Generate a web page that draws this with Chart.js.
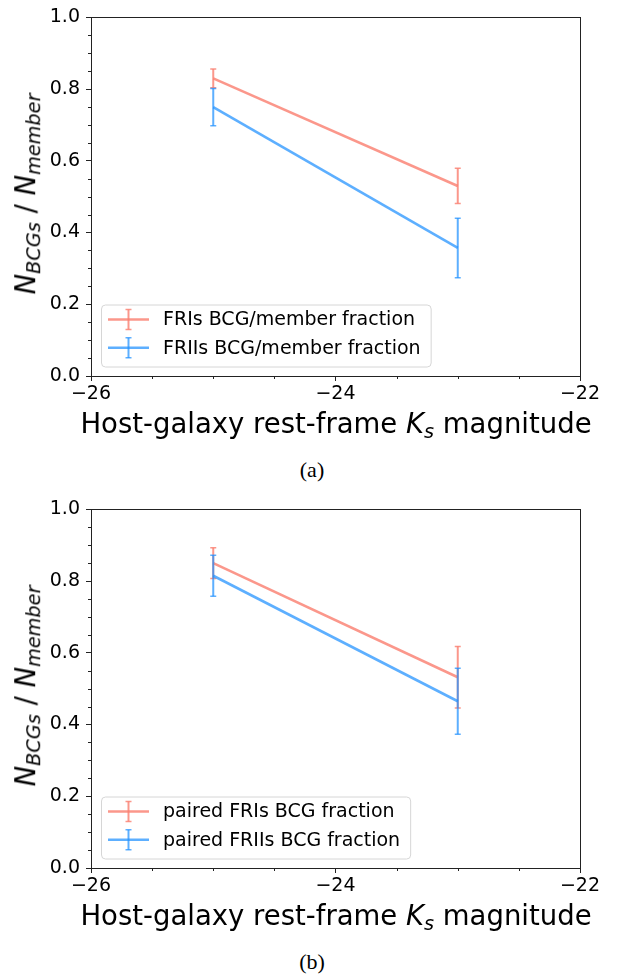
<!DOCTYPE html>
<html>
<head>
<meta charset="utf-8">
<script src="https://cdn.jsdelivr.net/npm/chart.js@4"></script>
<style>
  body { margin: 0; background: #fff; width: 624px; height: 978px; position: relative; overflow: hidden; font-family: 'DejaVu Sans', sans-serif; }
  .panel { position: absolute; left: 0; width: 624px; height: 490px; }
  .panel canvas { position: absolute; left: 0; top: 0; }
  .ytitle { position: absolute; left: 28px; top: 194px; transform: translate(-50%, -50%) rotate(-90deg); font-size: 27.5px; line-height: 1; white-space: nowrap; color: #000; }
  .xtitle { position: absolute; left: 336px; top: 410px; transform: translateX(-50%); font-size: 27.5px; line-height: 1; white-space: nowrap; color: #000; }
  .ytitle sub, .xtitle sub { font-size: 0.7em; vertical-align: -0.28em; }
  .caption { position: absolute; left: 312px; top: 459px; transform: translateX(-50%); font-family: 'Liberation Serif', serif; font-size: 22px; line-height: 1; color: #000; }
</style>
</head>
<body>

<div class="panel" style="top:0">
  <canvas id="panelA" width="624" height="410"></canvas>
  <div class="ytitle"><i>N</i><sub><i>BCGs</i></sub> / <i>N</i><sub><i>member</i></sub></div>
  <div class="xtitle">Host-galaxy rest-frame <i>K</i><sub><i>s</i></sub> magnitude</div>
  <div class="caption">(a)</div>
</div>

<div class="panel" style="top:492px">
  <canvas id="panelB" width="624" height="410"></canvas>
  <div class="ytitle"><i>N</i><sub><i>BCGs</i></sub> / <i>N</i><sub><i>member</i></sub></div>
  <div class="xtitle">Host-galaxy rest-frame <i>K</i><sub><i>s</i></sub> magnitude</div>
  <div class="caption">(b)</div>
</div>

<script>
// Magnitude bins (x) shared by both panels
const magnitudes = [-25, -23];

// Panel (a): BCG / member fraction
const friFraction = [0.83, 0.53];
const friError = [0.026, 0.049];
const friiFraction = [0.75, 0.357];
const friiError = [0.052, 0.083];

// Panel (b): paired sample BCG fraction
const pairedFriFraction = [0.85, 0.532];
const pairedFriError = [0.043, 0.086];
const pairedFriiFraction = [0.815, 0.465];
const pairedFriiError = [0.057, 0.092];

const xTicks = [-26, -24, -22];
const yTicks = [0.0, 0.2, 0.4, 0.6, 0.8, 1.0];

const SALMON = 'rgba(250, 128, 114, 0.82)';
const BLUE = 'rgba(30, 144, 255, 0.72)';
const AXIS = '#222';
const TICK_FONT = { family: 'DejaVu Sans', size: 19 };

function fmtMinus(v) {
  return v < 0 ? '\u2212' + Math.abs(v) : String(v);
}

// minor ticks plus the top and right spines
const frame = {
  id: 'frame',
  afterDraw(chart) {
    const { ctx, chartArea: a, scales: { x, y } } = chart;
    ctx.save();
    ctx.strokeStyle = AXIS;
    ctx.lineWidth = 1;
    ctx.beginPath();
    for (let i = 1; i < 20; i++) {
      if (i % 4 === 0) continue;
      const py = Math.round(y.getPixelForValue(i * 0.05)) + 0.5;
      ctx.moveTo(a.left - 3, py);
      ctx.lineTo(a.left, py);
    }
    for (let i = 1; i < 8; i++) {
      if (i % 4 === 0) continue;
      const px = Math.round(x.getPixelForValue(-26 + i * 0.5)) + 0.5;
      ctx.moveTo(px, a.bottom);
      ctx.lineTo(px, a.bottom + 3);
    }
    ctx.moveTo(Math.round(a.left), Math.round(a.top) + 0.5);
    ctx.lineTo(Math.round(a.right) + 1, Math.round(a.top) + 0.5);
    ctx.moveTo(Math.round(a.right) + 0.5, Math.round(a.top));
    ctx.lineTo(Math.round(a.right) + 0.5, Math.round(a.bottom));
    ctx.stroke();
    ctx.restore();
  }
};

// vertical error bars with caps, drawn right after each dataset's line
const errorBars = {
  id: 'errorBars',
  afterDatasetDraw(chart, args) {
    const ds = chart.data.datasets[args.index];
    const { ctx, scales: { x, y } } = chart;
    ctx.save();
    ctx.strokeStyle = ds.borderColor;
    ds.data.forEach((p, i) => {
      const err = ds.errors[i];
      const px = x.getPixelForValue(p.x);
      const top = y.getPixelForValue(p.y + err);
      const bot = y.getPixelForValue(p.y - err);
      ctx.lineWidth = 2;
      ctx.beginPath();
      ctx.moveTo(px, top);
      ctx.lineTo(px, bot);
      ctx.stroke();
      ctx.lineWidth = 1.5;
      ctx.beginPath();
      ctx.moveTo(px - 3, top);
      ctx.lineTo(px + 3, top);
      ctx.moveTo(px - 3, bot);
      ctx.lineTo(px + 3, bot);
      ctx.stroke();
    });
    ctx.restore();
  }
};

// legend box in the lower left corner of the plot area
const cornerLegend = {
  id: 'cornerLegend',
  afterDraw(chart) {
    const { ctx, chartArea: a } = chart;
    const items = chart.data.datasets;
    ctx.save();
    ctx.font = '19px "DejaVu Sans"';
    const textW = Math.max(...items.map(d => ctx.measureText(d.label).width));
    const left = a.left + 10, bottom = a.bottom - 9.5;
    const w = 62 + textW + 10, h = 62;
    const top = bottom - h;
    ctx.beginPath();
    ctx.roundRect(left + 0.5, top + 0.5, w, h, 4);
    ctx.fillStyle = 'rgba(255,255,255,0.8)';
    ctx.fill();
    ctx.strokeStyle = '#d6d6d6';
    ctx.lineWidth = 1;
    ctx.stroke();
    items.forEach((d, i) => {
      const cy = top + 15 + i * 28.3;
      ctx.strokeStyle = d.borderColor;
      ctx.lineWidth = 2.6;
      ctx.beginPath();
      ctx.moveTo(left + 7, cy);
      ctx.lineTo(left + 48, cy);
      ctx.stroke();
      ctx.lineWidth = 2;
      ctx.beginPath();
      ctx.moveTo(left + 27.5, cy - 10);
      ctx.lineTo(left + 27.5, cy + 10);
      ctx.stroke();
      ctx.lineWidth = 1.5;
      ctx.beginPath();
      ctx.moveTo(left + 24.5, cy - 10);
      ctx.lineTo(left + 30.5, cy - 10);
      ctx.moveTo(left + 24.5, cy + 10);
      ctx.lineTo(left + 30.5, cy + 10);
      ctx.stroke();
      ctx.fillStyle = '#000';
      ctx.textBaseline = 'middle';
      ctx.fillText(d.label, left + 62, cy + 1);
    });
    ctx.restore();
  }
};

function buildSeries(label, values, errors, color, order) {
  return {
    label,
    data: magnitudes.map((m, i) => ({ x: m, y: values[i] })),
    errors,
    borderColor: color,
    backgroundColor: color,
    borderWidth: 2.6,
    pointRadius: 0,
    fill: false,
    tension: 0,
    order
  };
}

function makePanel(canvasId, datasets) {
  const ctx = document.getElementById(canvasId).getContext('2d');
  return new Chart(ctx, {
    type: 'line',
    data: { datasets },
    options: {
      responsive: false,
      animation: false,
      events: [],
      layout: { padding: { top: 12, right: 44, bottom: 0, left: 0 } },
      plugins: { legend: { display: false }, tooltip: { enabled: false } },
      scales: {
        x: {
          type: 'linear',
          min: -26,
          max: -22,
          afterBuildTicks: s => { s.ticks = xTicks.map(v => ({ value: v })); },
          afterFit: s => { s.height = 34; },
          ticks: { callback: fmtMinus, font: TICK_FONT, color: '#000', padding: 2, maxRotation: 0, autoSkip: false },
          grid: { drawOnChartArea: false, tickLength: 5, tickColor: AXIS, tickWidth: 1 },
          border: { color: AXIS, width: 1 }
        },
        y: {
          min: 0,
          max: 1,
          afterBuildTicks: s => { s.ticks = yTicks.map(v => ({ value: v })); },
          afterFit: s => { s.width = 91; },
          ticks: { callback: v => v.toFixed(1), font: TICK_FONT, color: '#000', padding: 6, autoSkip: false },
          grid: { drawOnChartArea: false, tickLength: 5, tickColor: AXIS, tickWidth: 1 },
          border: { color: AXIS, width: 1 }
        }
      }
    },
    plugins: [errorBars, frame, cornerLegend]
  });
}

makePanel('panelA', [
  buildSeries('FRIs BCG/member fraction', friFraction, friError, SALMON, 1),
  buildSeries('FRIIs BCG/member fraction', friiFraction, friiError, BLUE, 0)
]);

makePanel('panelB', [
  buildSeries('paired FRIs BCG fraction', pairedFriFraction, pairedFriError, SALMON, 1),
  buildSeries('paired FRIIs BCG fraction', pairedFriiFraction, pairedFriiError, BLUE, 0)
]);
</script>
</body>
</html>
